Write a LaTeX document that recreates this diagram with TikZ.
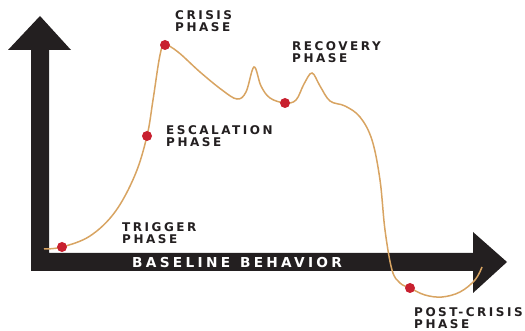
\documentclass[tikz,border=0pt]{standalone}
\usepackage{fontspec}
\setmainfont{DejaVu Sans}
\newfontfamily\phasefont[LetterSpace=21]{DejaVu Sans Bold}
\newfontfamily\axisfont[LetterSpace=24]{DejaVu Sans Bold}
\usetikzlibrary{positioning}

\definecolor{axisblack}{HTML}{231F20}
\definecolor{curvetan}{HTML}{D8A462}
\definecolor{dotred}{HTML}{C8202F}

\begin{document}
\begin{tikzpicture}[x=1pt,y=-1pt]%
            \useasboundingbox (0,0) rectangle (525,331);
            %% both axes as one filled outline
            \fill[axisblack] (31,271) -- (31,50) -- (8,50) -- (40,16) -- (71,50) -- (49,50)
                -- (49,253) -- (473,253) -- (473,232) -- (507,262) -- (473,293) -- (473,271) -- cycle; %%
            \node[text=white,inner sep=0,anchor=west,font=\axisfont\fontsize{13.7}{14}\selectfont] (base) at (132,263) {BASELINE\hspace{10pt}BEHAVIOR}; %%
            %% points on the curve
            \coordinate (trig) at (62,247); %%
            \coordinate (esc) at (147,136); %%
            \coordinate (crisis) at (165,45); %%
            \coordinate (recov) at (285,103); %%
            \coordinate (post) at (410,288); %%
            \draw[curvetan,line width=1.5pt] plot[smooth,tension=.6] coordinates {(44,249) (trig) (90,236) (115,212)
                (135,175) (esc) (153,100) (160,55) (crisis) (178,52) (200,72) (222,90) (237,99) (246,92) (254,67)
                (261,86) (270,98) (recov) (296,100) (304,84) (312,73) (320,86) (330,101) (345,106) (360,117)
                (372,140) (380,180) (385,230) (392,270) (400,283) (post) (425,295) (442,297) (460,292) (475,280) (482,267)}; %%
            \begin{scope}[shape=circle,inner sep=0,minimum size=10pt]%
            \tikzstyle{every node}=[fill=dotred] %%
            \node (trigdot) at (trig) {}; %%
            \node (escdot) at (esc) {}; %%
            \node (crisisdot) at (crisis) {}; %%
            \node (recovdot) at (recov) {}; %%
            \node (postdot) at (post) {}; %%
            \end{scope}
            \begin{scope}[anchor=north west,inner sep=0,align=left,text=axisblack,font=\phasefont\fontsize{12}{12.5}\selectfont]%
            \node (trigl) at (122,222) {TRIGGER\\PHASE}; %%
            \node (escl) at (166,125) {ESCALATION\\PHASE}; %%
            \node (crisisl) at (175,10) {CRISIS\\PHASE}; %%
            \node (recovl) at (292,41) {RECOVERY\\PHASE}; %%
            \node (postl) at (414,307) {POST-CRISIS\\PHASE}; %%
            \end{scope}
        \end{tikzpicture}
\end{document}
